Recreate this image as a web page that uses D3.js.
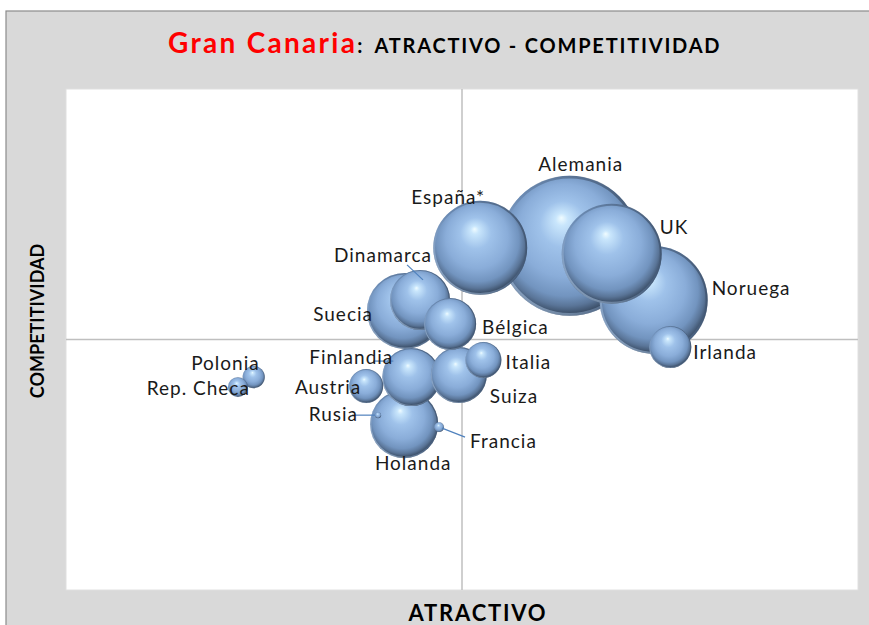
<!DOCTYPE html>
<html>
<head>
<meta charset="utf-8">
<script src="https://cdnjs.cloudflare.com/ajax/libs/d3/7.8.5/d3.min.js"></script>
<style>
  body { margin: 0; background: #fff; }
  svg text { font-family: Lato, "Open Sans", sans-serif; }
</style>
</head>
<body>
<script>
// country data: atractivo (x), competitividad (y), bubble size
let countries = ["Alemania", "Noruega", "UK", "España*", "Suecia", "Holanda", "Dinamarca", "Finlandia",
                 "Suiza", "Bélgica", "Irlanda", "Italia", "Austria", "Polonia", "Rep. Checa", "Francia", "Rusia"];
let atractivo = [6.36, 7.42, 6.89, 5.23, 4.28, 4.27, 4.47, 4.36, 4.96, 4.85, 7.63, 5.27, 3.79, 2.37, 2.17, 4.71, 3.94];
let competitividad = [6.87, 5.79, 6.71, 6.83, 5.57, 3.31, 5.79, 4.25, 4.29, 5.31, 4.85, 4.59, 4.07, 4.25, 4.05, 3.25, 3.49];
let tamano = [100, 59.5, 51, 45, 29.5, 23.6, 18.4, 17.2, 16, 13.8, 9, 6.6, 5.9, 2.5, 2.0, 0.5, 0.18];

// label placement relative to bubble centre (layout only)
let labelPos = {
  "Alemania":   {dx: 11, dy: -75, anchor: "middle"},
  "España*":    {dx: -32, dy: -44, anchor: "middle"},
  "UK":         {dx: 48, dy: -20, anchor: "start"},
  "Noruega":    {dx: 58, dy: -5, anchor: "start"},
  "Dinamarca":  {dx: 12, dy: -38, anchor: "end", line: [[-13, -35], [3, -20]]},
  "Suecia":     {dx: -32, dy: 10, anchor: "end"},
  "Bélgica":    {dx: 32, dy: 10, anchor: "start"},
  "Irlanda":    {dx: 23, dy: 12, anchor: "start"},
  "Italia":     {dx: 22, dy: 9, anchor: "start"},
  "Polonia":    {dx: 6, dy: -7, anchor: "end"},
  "Rep. Checa": {dx: 12, dy: 8, anchor: "end"},
  "Finlandia":  {dx: -18, dy: -13, anchor: "end", line: [[-38, -16], [-18, -16]]},
  "Austria":    {dx: -5, dy: 8, anchor: "end"},
  "Suiza":      {dx: 31, dy: 28, anchor: "start"},
  "Rusia":      {dx: -20, dy: 6, anchor: "end", line: [[-26, 0], [-3, 0]]},
  "Francia":    {dx: 31, dy: 21, anchor: "start", line: [[3, 1], [26, 10]]},
  "Holanda":    {dx: 9, dy: 46, anchor: "middle"}
};

let data = countries.map((c, i) => ({name: c, x: atractivo[i], y: competitividad[i], size: tamano[i]}));
// bigger bubbles drawn first
data.sort((a, b) => b.size - a.size);

let W = 869, H = 625;
let plot = {left: 66, right: 858, top: 89, bottom: 590};

let svg = d3.select("body").append("svg")
  .attr("width", W)
  .attr("height", H);

// chart background
svg.append("rect")
  .attr("x", 6).attr("y", 11)
  .attr("width", W).attr("height", H)
  .attr("fill", "#d9d9d9")
  .attr("stroke", "#8c8c8c")
  .attr("stroke-width", 1.2);

// plot area
svg.append("rect")
  .attr("x", plot.left).attr("y", plot.top)
  .attr("width", plot.right - plot.left).attr("height", plot.bottom - plot.top)
  .attr("fill", "#fff")
  .attr("stroke", "#e0e0e0");

let xScale = d3.scaleLinear().domain([0, 10]).range([plot.left, plot.right]);
let yScale = d3.scaleLinear().domain([0, 10]).range([plot.bottom, plot.top]);
let rScale = d3.scaleSqrt().domain([0, d3.max(data, d => d.size)]).range([0, 70]);

// quadrant lines
svg.append("line")
  .attr("x1", xScale(5)).attr("x2", xScale(5))
  .attr("y1", plot.top).attr("y2", plot.bottom)
  .attr("stroke", "#bfbfbf").attr("stroke-width", 1.5);
svg.append("line")
  .attr("x1", plot.left).attr("x2", plot.right)
  .attr("y1", yScale(5)).attr("y2", yScale(5))
  .attr("stroke", "#bfbfbf").attr("stroke-width", 1.5);

// sphere shading
let defs = svg.append("defs");
let grad = defs.append("radialGradient")
  .attr("id", "sphere")
  .attr("cx", "48%").attr("cy", "45%").attr("r", "55%")
  .attr("fx", "44%").attr("fy", "30%");
[[0, "#f0fcff"], [0.08, "#c9e6fc"], [0.3, "#9fc2ea"], [0.6, "#8aadd9"], [0.8, "#7294bf"], [0.9, "#5a7598"], [1, "#33445a"]]
  .forEach(s => grad.append("stop").attr("offset", s[0]).attr("stop-color", s[1]));

// edge: dark top-right, light bottom-left
let edge = defs.append("linearGradient")
  .attr("id", "edge")
  .attr("x1", "85%").attr("y1", "15%").attr("x2", "15%").attr("y2", "85%");
[[0, "#2e3d52"], [0.5, "#5d7aa0"], [1, "#b8d2f0"]]
  .forEach(s => edge.append("stop").attr("offset", s[0]).attr("stop-color", s[1]));

let radius = d => Math.max(rScale(d.size), 3);

let bubbles = svg.append("g").selectAll("g")
  .data(data)
  .enter()
  .append("g");

bubbles.append("circle")
  .attr("cx", d => xScale(d.x))
  .attr("cy", d => yScale(d.y))
  .attr("r", radius)
  .attr("fill", "url(#sphere)");
bubbles.append("circle")
  .attr("cx", d => xScale(d.x))
  .attr("cy", d => yScale(d.y))
  .attr("r", d => radius(d) * 0.98)
  .attr("fill", "none")
  .attr("stroke", "url(#edge)")
  .attr("stroke-opacity", 0.5)
  .attr("stroke-width", d => radius(d) * 0.04);

// leader lines
svg.append("g").selectAll("line")
  .data(data.filter(d => labelPos[d.name].line))
  .enter()
  .append("line")
  .attr("x1", d => xScale(d.x) + labelPos[d.name].line[0][0])
  .attr("y1", d => yScale(d.y) + labelPos[d.name].line[0][1])
  .attr("x2", d => xScale(d.x) + labelPos[d.name].line[1][0])
  .attr("y2", d => yScale(d.y) + labelPos[d.name].line[1][1])
  .attr("stroke", "#4f81bd")
  .attr("stroke-width", 1.2);

// labels
svg.append("g").selectAll("text")
  .data(data)
  .enter()
  .append("text")
  .attr("x", d => xScale(d.x) + labelPos[d.name].dx)
  .attr("y", d => yScale(d.y) + labelPos[d.name].dy)
  .attr("text-anchor", d => labelPos[d.name].anchor)
  .style("font-size", "19px")
  .style("letter-spacing", "1px")
  .attr("fill", "#1a1a1a")
  .text(d => d.name);

// title
let title = svg.append("text")
  .attr("x", 168).attr("y", 53)
  .style("font-weight", "bold");
title.append("tspan").attr("fill", "#ff0000").style("font-size", "28px").style("letter-spacing", "2.3px").text("Gran Canaria");
title.append("tspan").attr("fill", "#000").style("font-size", "20px").text(":");
title.append("tspan").attr("fill", "#000").attr("dx", 12).style("font-size", "20px").style("letter-spacing", "1.8px")
  .text("ATRACTIVO - COMPETITIVIDAD");

// axis titles
svg.append("text")
  .attr("x", 478).attr("y", 621)
  .attr("text-anchor", "middle")
  .style("font-weight", "bold").style("font-size", "22px").style("letter-spacing", "1.8px")
  .text("ATRACTIVO");

svg.append("text")
  .attr("transform", "translate(44,321) rotate(-90)")
  .attr("text-anchor", "middle")
  .style("font-weight", "bold").style("font-size", "18px")
  .text("COMPETITIVIDAD");
</script>
</body>
</html>
